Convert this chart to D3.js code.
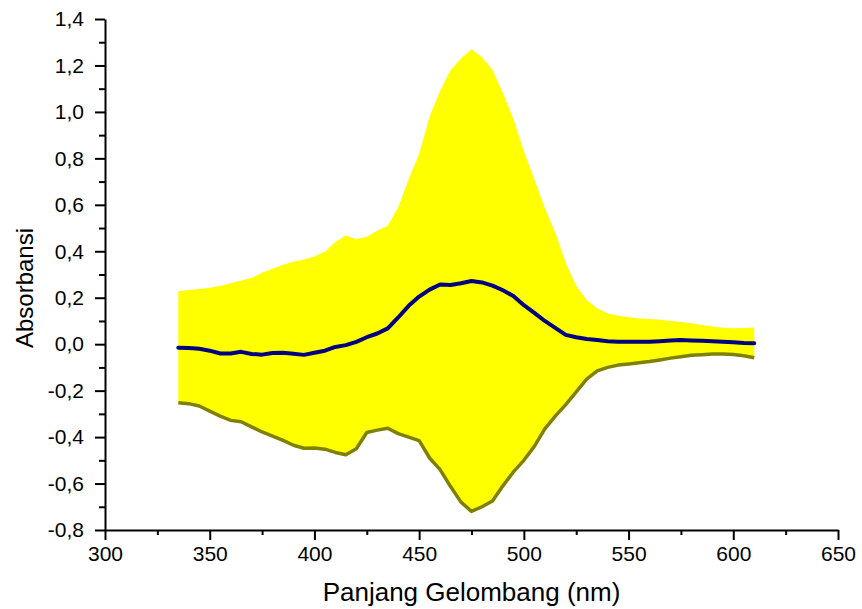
<!DOCTYPE html>
<html>
<head>
<meta charset="utf-8">
<script src="https://cdn.jsdelivr.net/npm/d3@7"></script>
<style>
  html, body { margin: 0; padding: 0; background: #fff; }
  svg { display: block; font-family: "Liberation Sans", Arial, sans-serif; }
</style>
</head>
<body>
<svg id="chart" width="862" height="609"></svg>
<script>
// Wavelength grid (nm)
const wavelength = [
  335, 340, 345, 350, 355, 360, 365, 370, 375, 380,
  385, 390, 395, 400, 405, 410, 415, 420, 425, 430,
  435, 440, 445, 450, 455, 460, 465, 470, 475, 480,
  485, 490, 495, 500, 505, 510, 515, 520, 525, 530,
  535, 540, 545, 550, 555, 560, 565, 570, 575, 580,
  585, 590, 595, 600, 605, 610
];

// Upper edge of the spread band
const upperBand = [
  0.228, 0.233, 0.238, 0.243, 0.250, 0.262, 0.274, 0.285, 0.308, 0.325,
  0.342, 0.355, 0.365, 0.378, 0.398, 0.440, 0.468, 0.452, 0.462, 0.488,
  0.510, 0.590, 0.710, 0.820, 0.980, 1.090, 1.180, 1.230, 1.270, 1.235,
  1.180, 1.080, 0.970, 0.830, 0.710, 0.585, 0.480, 0.350, 0.250, 0.190,
  0.155, 0.132, 0.122, 0.116, 0.111, 0.108, 0.105, 0.100, 0.095, 0.090,
  0.083, 0.076, 0.071, 0.069, 0.070, 0.072
];

// Mean absorbance curve
const meanCurve = [
  -0.015, -0.016, -0.020, -0.028, -0.040, -0.040, -0.033, -0.042, -0.045, -0.038,
  -0.037, -0.041, -0.046, -0.037, -0.028, -0.012, -0.004, 0.010, 0.030, 0.046,
  0.068, 0.115, 0.165, 0.205, 0.235, 0.257, 0.255, 0.262, 0.272, 0.266,
  0.252, 0.232, 0.207, 0.168, 0.135, 0.100, 0.070, 0.040, 0.030, 0.022,
  0.018, 0.013, 0.011, 0.010, 0.010, 0.011, 0.013, 0.016, 0.018, 0.016,
  0.015, 0.013, 0.010, 0.008, 0.005, 0.004
];

// Lower edge of the spread band
const lowerBand = [
  -0.252, -0.256, -0.266, -0.288, -0.310, -0.328, -0.334, -0.356, -0.378, -0.396,
  -0.414, -0.435, -0.448, -0.447, -0.452, -0.466, -0.476, -0.450, -0.380, -0.370,
  -0.362, -0.385, -0.400, -0.415, -0.490, -0.540, -0.613, -0.680, -0.720, -0.700,
  -0.675, -0.610, -0.550, -0.500, -0.440, -0.365, -0.310, -0.260, -0.205, -0.150,
  -0.115, -0.100, -0.090, -0.085, -0.080, -0.075, -0.068, -0.060, -0.054, -0.048,
  -0.045, -0.042, -0.042, -0.044, -0.050, -0.058
];

const xTicks = [300, 350, 400, 450, 500, 550, 600, 650];
const xMinorTicks = [325, 375, 425, 475, 525, 575, 625];
const yTicks = [-0.8, -0.6, -0.4, -0.2, 0.0, 0.2, 0.4, 0.6, 0.8, 1.0, 1.2, 1.4];
const yMinorTicks = [-0.7, -0.5, -0.3, -0.1, 0.1, 0.3, 0.5, 0.7, 0.9, 1.1, 1.3];

const xTitle = "Panjang Gelombang (nm)";
const yTitle = "Absorbansi";

const width = 862, height = 609;
const margin = { top: 19, right: 24, bottom: 79, left: 105 };

const svg = d3.select("#chart");

const x = d3.scaleLinear().domain([300, 650]).range([margin.left, width - margin.right]);
const y = d3.scaleLinear().domain([-0.8, 1.4]).range([height - margin.bottom, margin.top]);

const locale = d3.formatLocale({ decimal: ",", thousands: ".", grouping: [3], currency: ["", ""], minus: "-" });
const fmt = locale.format(".1f");

const rows = wavelength.map((w, i) => ({ w, hi: upperBand[i], mid: meanCurve[i], lo: lowerBand[i] }));

// Spread band
svg.append("path")
  .datum(rows)
  .attr("fill", "#ffff00")
  .attr("d", d3.area().x(d => x(d.w)).y0(d => y(d.lo)).y1(d => y(d.hi)));

// Lower edge line
svg.append("path")
  .datum(rows)
  .attr("fill", "none")
  .attr("stroke", "#808000")
  .attr("stroke-width", 3.5)
  .attr("stroke-linejoin", "round")
  .attr("d", d3.line().x(d => x(d.w)).y(d => y(d.lo)));

// Mean line
svg.append("path")
  .datum(rows)
  .attr("fill", "none")
  .attr("stroke", "#000080")
  .attr("stroke-width", 4)
  .attr("stroke-linejoin", "round")
  .attr("stroke-linecap", "round")
  .attr("d", d3.line().x(d => x(d.w)).y(d => y(d.mid)));

// Axes
svg.append("g")
  .attr("transform", `translate(0,${height - margin.bottom})`)
  .call(d3.axisBottom(x).tickValues(xTicks).tickSize(10).tickPadding(6).tickSizeOuter(0).tickFormat(d3.format("d")));
svg.append("g")
  .attr("transform", `translate(0,${height - margin.bottom})`)
  .call(d3.axisBottom(x).tickValues(xMinorTicks).tickSize(5).tickSizeOuter(0).tickFormat(""))
  .call(g => g.select(".domain").remove());

svg.append("g")
  .attr("transform", `translate(${margin.left},0)`)
  .call(d3.axisLeft(y).tickValues(yTicks).tickSize(10).tickPadding(11).tickSizeOuter(0).tickFormat(fmt));
svg.append("g")
  .attr("transform", `translate(${margin.left},0)`)
  .call(d3.axisLeft(y).tickValues(yMinorTicks).tickSize(6).tickSizeOuter(0).tickFormat(""))
  .call(g => g.select(".domain").remove());

svg.selectAll(".domain, .tick line").attr("stroke", "#000").attr("stroke-width", 2);
svg.selectAll(".tick text")
  .attr("fill", "#000")
  .style("font-size", "21px")
  .style("font-family", "'Liberation Sans', Arial, sans-serif");

// Axis titles
svg.append("text")
  .attr("x", (margin.left + width - margin.right) / 2)
  .attr("y", 601)
  .attr("text-anchor", "middle")
  .style("font-size", "26px")
  .text(xTitle);

svg.append("text")
  .attr("transform", `translate(33,288) rotate(-90)`)
  .attr("text-anchor", "middle")
  .style("font-size", "24px")
  .text(yTitle);
</script>
</body>
</html>
